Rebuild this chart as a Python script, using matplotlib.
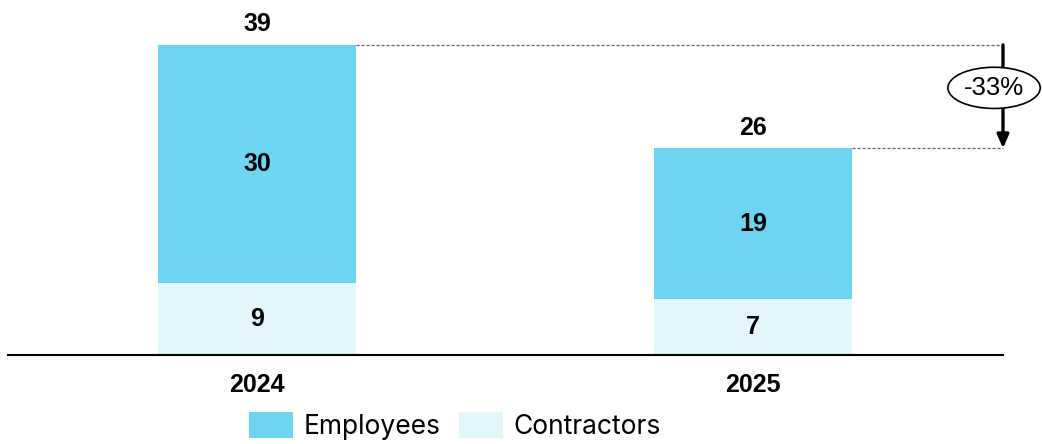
import matplotlib.pyplot as plt

years = ["2024", "2025"]
employees = [30, 19]
contractors = [9, 7]
totals = [e + c for e, c in zip(employees, contractors)]

emp_color = "#6DD5F0"
con_color = "#E3F6FB"

fig = plt.figure(figsize=(10.42, 4.44), dpi=100)
ax = fig.add_axes([8 / 1042, 89 / 444, 995 / 1042, 355 / 444])

x = list(range(len(years)))
w = 0.4
ax.bar(x, contractors, w, color=con_color, label="Contractors")
ax.bar(x, employees, w, bottom=contractors, color=emp_color, label="Employees")

lab = dict(ha="center", va="center", fontsize=18, fontweight="bold",
           family="Liberation Sans")
for i in x:
    ax.text(i, contractors[i] / 2, str(contractors[i]), **lab)
    ax.text(i, contractors[i] + employees[i] / 2, str(employees[i]), **lab)
    ax.text(i, totals[i] + 2.6, str(totals[i]), **lab)

ax.set_xlim(-0.502, 1.504)
ax.set_ylim(0, 44.65)

# change annotation on the right
xa = 1.504
for i in x:
    ax.plot([i + w / 2, xa], [totals[i]] * 2, color="#666666", lw=0.9,
            ls=(0, (2.5, 1.5)), clip_on=False)
ax.annotate("", xy=(xa, totals[1]), xytext=(xa, totals[0]),
            arrowprops=dict(arrowstyle="-|>,head_width=0.35,head_length=0.8",
                            color="black", lw=2.4, shrinkA=0, shrinkB=0),
            annotation_clip=False)
pct = (totals[1] - totals[0]) / totals[0] * 100
ax.text(xa - 0.018, 33.6, f"{pct:.0f}%", ha="center", va="center", fontsize=18.5,
        family="Liberation Sans", clip_on=False,
        bbox=dict(boxstyle="ellipse,pad=0.1", fc="white", ec="black", lw=1.2))

for s in ["top", "right", "left"]:
    ax.spines[s].set_visible(False)
ax.spines["bottom"].set_linewidth(1.5)
ax.set_yticks([])
ax.set_xticks(x)
ax.set_xticklabels(years, fontsize=18, fontweight="bold", family="Liberation Sans")
ax.tick_params(axis="x", length=0, pad=13)

handles, labels = ax.get_legend_handles_labels()
fig.legend(handles[::-1], labels[::-1], loc="center", bbox_to_anchor=(455 / 1042, 0.04),
           ncol=2, frameon=False, prop=dict(family="Inter", size=19),
           handlelength=1.65, handleheight=1.15, handletextpad=0.4, columnspacing=0.7)

fig.savefig("out.png", dpi=100)
